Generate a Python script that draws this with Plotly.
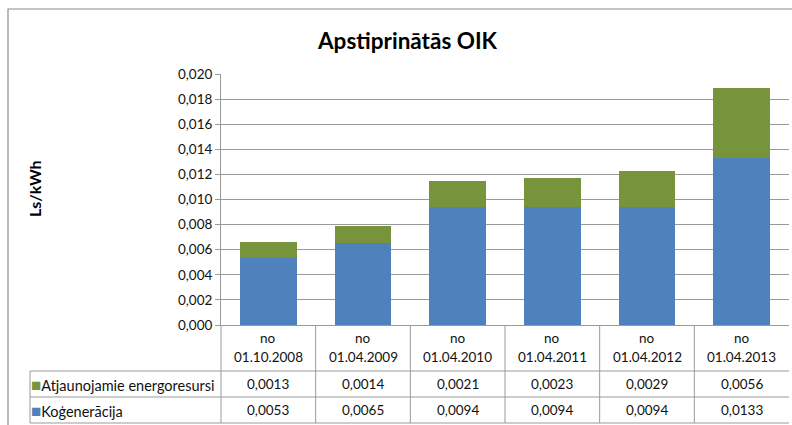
import plotly.graph_objects as go

categories = ["01.10.2008", "01.04.2009", "01.04.2010", "01.04.2011", "01.04.2012", "01.04.2013"]
cat_prefix = "no"
series_names = ["Atjaunojamie energoresursi", "Koģenerācija"]
atjaunojamie = [0.0013, 0.0014, 0.0021, 0.0023, 0.0029, 0.0056]
kogeneracija = [0.0053, 0.0065, 0.0094, 0.0094, 0.0094, 0.0133]
colors = {"Atjaunojamie energoresursi": "#77933C", "Koģenerācija": "#4F81BD"}
title_text = "Apstiprinātās OIK"
y_title = "Ls/kWh"

W, H = 792, 425
L, R, T, B = 221, 789, 74, 325
FONT = "Lato"
GRID = "#9a9a9a"
TXT = "#111111"


def px(x):
    return (x - L) / (R - L)


def py(y):
    return (B - y) / (B - T)


fig = go.Figure()
fig.add_trace(go.Bar(x=categories, y=kogeneracija, name=series_names[1],
                     marker=dict(color=colors[series_names[1]], line=dict(width=0))))
fig.add_trace(go.Bar(x=categories, y=atjaunojamie, name=series_names[0],
                     marker=dict(color=colors[series_names[0]], line=dict(width=0))))

shapes = []
# outer chart frame
shapes.append(dict(type="rect", xref="paper", yref="paper",
                   x0=px(8), x1=px(820), y0=py(460), y1=py(9),
                   line=dict(color="#8c8c8c", width=1.2), layer="below"))
# table horizontal lines
for yy in [371, 397, 423]:
    shapes.append(dict(type="line", xref="paper", yref="paper",
                       x0=px(30), x1=px(R), y0=py(yy), y1=py(yy),
                       line=dict(color=GRID, width=1)))
# table vertical lines
shapes.append(dict(type="line", xref="paper", yref="paper",
                   x0=px(30), x1=px(30), y0=py(371), y1=py(423),
                   line=dict(color=GRID, width=1)))
shapes.append(dict(type="line", xref="paper", yref="paper",
                   x0=px(L), x1=px(L), y0=py(B), y1=py(423),
                   line=dict(color=GRID, width=1)))
for i in range(len(categories) - 1):
    shapes.append(dict(type="line", xref="x", yref="paper",
                       x0=i + 0.5, x1=i + 0.5, y0=py(B), y1=py(423),
                       line=dict(color=GRID, width=1)))

ann = []
ann.append(dict(text="<b>" + title_text + "</b>", xref="paper", yref="paper",
                x=px(407), y=py(41), showarrow=False, xanchor="center", yanchor="middle",
                font=dict(family=FONT, size=22.5, color="#000")))
ann.append(dict(text="<b>" + y_title + "</b>", xref="paper", yref="paper",
                x=px(34), y=py(189), showarrow=False, textangle=-90,
                xanchor="center", yanchor="middle",
                font=dict(family=FONT, size=16, color="#000")))


def fmt(v):
    return f"{v:.4f}".replace(".", ",")


for c in categories:
    ann.append(dict(text=cat_prefix, xref="x", yref="paper", x=c, y=py(338),
                    showarrow=False, xanchor="center", yanchor="middle",
                    font=dict(family=FONT, size=13.5, color=TXT)))
    ann.append(dict(text=c, xref="x", yref="paper", x=c, y=py(357),
                    showarrow=False, xanchor="center", yanchor="middle",
                    font=dict(family=FONT, size=13.5, color=TXT)))

row_y = [384, 410]
row_vals = [atjaunojamie, kogeneracija]
for name, vals, yy in zip(series_names, row_vals, row_y):
    ann.append(dict(text=f'<span style="color:{colors[name]};font-size:17px">■</span>{name}',
                    xref="paper", yref="paper", x=px(29), y=py(yy),
                    showarrow=False, xanchor="left", yanchor="middle",
                    font=dict(family=FONT, size=14.5, color=TXT)))
    for c, v in zip(categories, vals):
        ann.append(dict(text=fmt(v), xref="x", yref="paper", x=c, y=py(yy),
                        showarrow=False, xanchor="center", yanchor="middle",
                        font=dict(family=FONT, size=13.5, color=TXT)))

fig.update_layout(
    width=W, height=H,
    margin=dict(l=L, r=W - R, t=T, b=H - B, pad=0),
    paper_bgcolor="white", plot_bgcolor="white",
    barmode="stack", bargap=0.4,
    showlegend=False,
    separators=",.",
    shapes=shapes, annotations=ann,
    xaxis=dict(showticklabels=False, showgrid=False, showline=True,
               linecolor=GRID, linewidth=1, ticks="", range=[-0.5, 5.5],
               fixedrange=True),
    yaxis=dict(range=[0, 0.020], dtick=0.002, tickformat=".3f",
               showgrid=True, gridcolor=GRID, gridwidth=1,
               showline=True, linecolor=GRID, linewidth=1,
               ticks="outside", ticklen=5, tickcolor=GRID,
               tickfont=dict(family=FONT, size=13.5, color=TXT),
               zeroline=False, fixedrange=True),
    font=dict(family=FONT),
)

fig.write_html("out.html", config={"displayModeBar": False},
               post_script="document.body.style.margin='0';document.body.style.overflow='hidden';")
